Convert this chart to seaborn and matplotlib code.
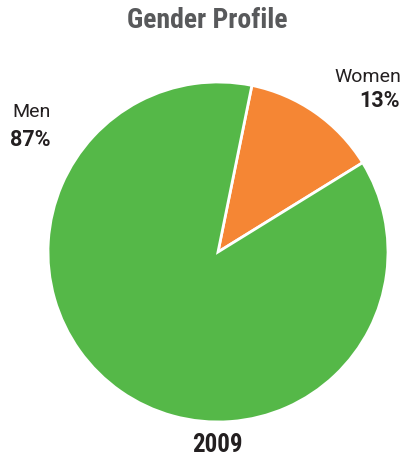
import matplotlib
matplotlib.use("Agg")
import matplotlib.pyplot as plt
from matplotlib import font_manager
import seaborn as sns

# Gender split for 2009
categories = ["Women", "Men"]
shares = [13, 87]
year_label = "2009"
title_text = "Gender Profile"

colors = ["#f58634", "#55b848"]

sns.set_theme(style="white")

# prefer a narrow sans face for the headings when one is installed
installed = {f.name for f in font_manager.fontManager.ttflist}
narrow = [n for n in ["Roboto Condensed", "Liberation Sans Narrow",
                      "Open Sans Condensed", "DejaVu Sans Condensed"]
          if n in installed]
head_family = [narrow[0] if narrow else "Roboto", "DejaVu Sans"]
body_family = ["Roboto", "DejaVu Sans"]
plt.rcParams["font.family"] = body_family

fig = plt.figure(figsize=(4.06, 4.57), dpi=100)
ax = fig.add_axes([0, 0, 1, 1])

cx, cy, r = 218, 457 - 252, 170
ax.pie(shares, colors=colors, startangle=78.5, counterclock=False,
       center=(cx, cy), radius=r, frame=True,
       wedgeprops=dict(edgecolor="white", linewidth=2.0))
ax.set_xlim(0, 406)
ax.set_ylim(0, 457)
ax.set_aspect("equal")
ax.axis("off")

ax.text(207, 457 - 20, title_text, ha="center", va="center",
        fontsize=20, fontweight="bold", color="#58595b", family=head_family)

ax.text(12, 457 - 112, categories[1], ha="left", va="center",
        fontsize=14, color="#231f20")
ax.text(10, 457 - 140, f"{shares[1]}%", ha="left", va="center",
        fontsize=15.5, fontweight="bold", color="#231f20")

ax.text(401, 457 - 77, categories[0], ha="right", va="center",
        fontsize=14, color="#231f20")
ax.text(400, 457 - 101, f"{shares[0]}%", ha="right", va="center",
        fontsize=15.5, fontweight="bold", color="#231f20")

ax.text(217, 457 - 445, year_label, ha="center", va="center",
        fontsize=18, fontweight="bold", color="#231f20", family=head_family)

fig.savefig("out.png", dpi=100)
